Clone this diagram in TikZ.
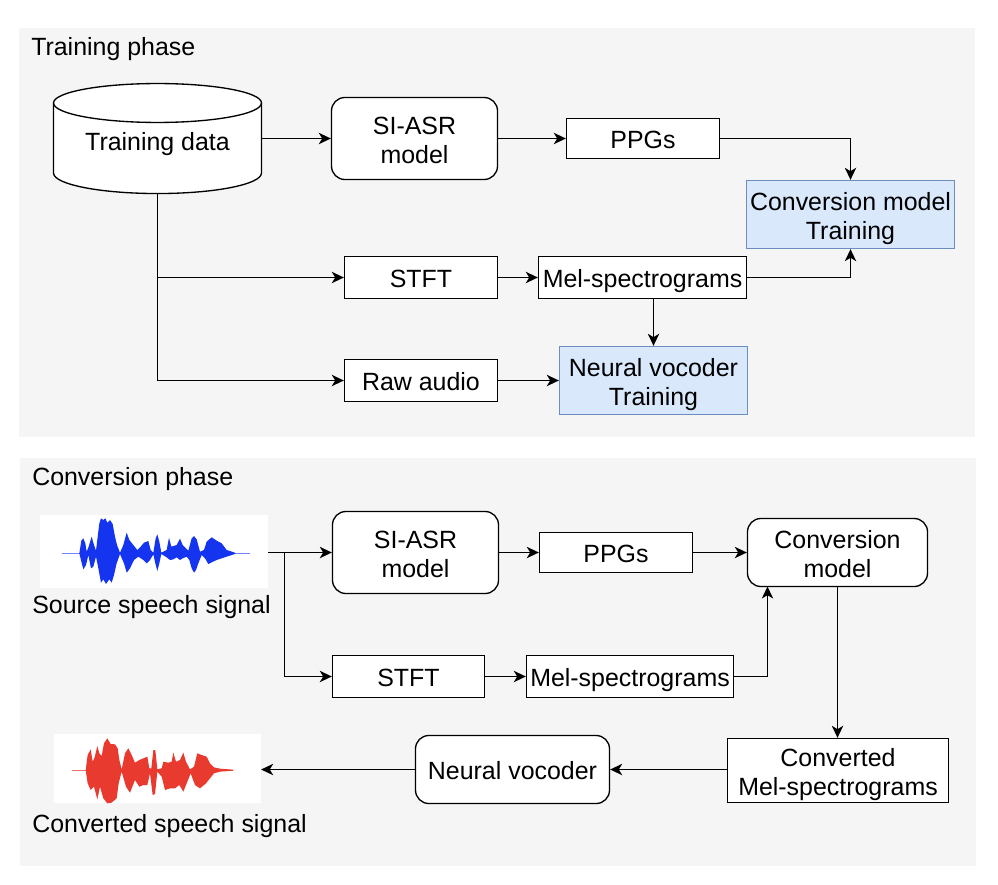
\documentclass[tikz,border=0pt]{standalone}
\usepackage{fontspec}
\setmainfont{Liberation Sans}
\usetikzlibrary{arrows.meta}

\definecolor{panelgray}{HTML}{F5F5F5}
\definecolor{vocfill}{HTML}{DAE8FC}
\definecolor{vocline}{HTML}{6C8EBF}
\definecolor{wavblue}{HTML}{1434F0}
\definecolor{wavred}{HTML}{E93A30}

\tikzset{
  every node/.style={font=\fontsize{18.7}{21.75}\selectfont, inner sep=0pt, align=center,
    execute at begin node={\rule{0pt}{19pt}}, execute at end node={\rule[-4pt]{0pt}{0pt}}},
  tworows/.style={execute at begin node={\rule{0pt}{40.8pt}}},
  panel/.style={fill=panelgray, draw=none},
  boxnode/.style={draw=black, line width=1pt, fill=white},
  roundnode/.style={boxnode, rounded corners=10pt},
  bluenode/.style={draw=vocline, line width=1pt, fill=vocfill},
  labelnode/.style={anchor=west},
  imgnode/.style={fill=white},
  arr/.style={line width=1pt, -{Stealth[length=9pt,width=8.5pt,inset=2.5pt]}},
  plainline/.style={line width=1pt}
}

\begin{document}
\begin{tikzpicture}[x=0.75pt,y=-0.75pt]
\useasboundingbox (0,0) rectangle (998,884);
\fill[panel] (19,28) rectangle (975,437);
\fill[panel] (20,458) rectangle (976,866);

% training phase
\node[labelnode] (trainlabel) at (31,46) {Training phase};
\draw[boxnode] (53.5,103) arc[start angle=180, end angle=0, x radius=78pt, y radius=14.6pt]
  -- (261.5,173) arc[start angle=0, end angle=-180, x radius=78pt, y radius=15.4pt] -- cycle;
\draw[boxnode, fill=none] (53.5,103) arc[start angle=180, end angle=360, x radius=78pt, y radius=14.6pt];
\node[minimum width=156pt, minimum height=79.5pt] (traindata) at (157.5,141) {Training data};
\node[roundnode, tworows, minimum width=124.5pt, minimum height=61.5pt] (asr1) at (414.5,138.5) {SI-ASR\\model};
\node[boxnode, minimum width=114.75pt, minimum height=30pt] (ppg1) at (643,138.5) {PPGs};
\node[bluenode, tworows, minimum width=156pt, minimum height=51pt] (convtrain) at (850.5,214.5) {Conversion model\\Training};
\node[boxnode, minimum width=114.75pt, minimum height=31.5pt] (stft1) at (421,277.5) {STFT};
\node[boxnode, minimum width=156pt, minimum height=31.5pt] (mel1) at (642.5,277.5) {Mel-spectrograms};
\node[boxnode, minimum width=114.75pt, minimum height=31.5pt] (raw) at (421,380.5) {Raw audio};
\node[bluenode, tworows, minimum width=141pt, minimum height=51pt] (voctrain) at (653.5,380.5) {Neural vocoder\\Training};

\draw[arr] (traindata.east |- asr1.west) -- (asr1.west);
\draw[arr] (asr1.east) -- (ppg1.west);
\draw[arr] (ppg1.east) -| (convtrain.north);
\draw[arr] (traindata.south) |- (stft1.west);
\draw[arr] (traindata.south) |- (raw.west);
\draw[arr] (stft1.east) -- (mel1.west);
\draw[arr] (mel1.east) -| (convtrain.south);
\draw[arr] (voctrain.north |- mel1.south) -- (voctrain.north);
\draw[arr] (raw.east) -- (voctrain.west);

% conversion phase
\node[labelnode] (convlabel) at (32,475) {Conversion phase};
\node[imgnode, minimum width=171pt, minimum height=55pt] (srcimg) at (154,551.5) {};
\begin{scope}[shift={(20,500)},x=0.25pt,y=-0.25pt]
\draw[wavblue!60, line width=0.4pt] (125,160) -- (690,160);
\fill[wavblue] plot coordinates {(178,160) (184,122) (190,115) (196,130) (200,155) (206,140) (215,110) (222,135) (228,152) (238,70) (243,55) (250,60) (256,55) (262,68) (270,60) (278,72) (285,110) (291,135) (300,158) (310,135) (320,98) (328,120) (340,135) (352,150) (362,140) (372,128) (385,123) (392,150) (400,158) (407,115) (412,103) (418,125) (424,158) (440,150) (447,113) (454,140) (470,135) (480,116) (488,135) (505,152) (515,115) (522,108) (530,118) (540,155) (552,150) (560,125) (575,112) (590,122) (605,130) (620,150) (645,158)
(645,162) (620,170) (605,175) (590,180) (575,187) (565,192) (555,175) (545,165) (535,190) (528,210) (522,218) (515,205) (508,180) (500,170) (488,175) (480,180) (470,172) (460,178) (450,180) (440,172) (424,162) (418,190) (412,213) (406,190) (400,163) (390,180) (380,190) (370,180) (355,170) (342,180) (330,205) (320,218) (312,190) (300,162) (290,190) (282,225) (275,248) (268,238) (258,252) (250,238) (243,248) (235,205) (228,170) (220,200) (213,205) (205,165) (198,195) (190,208) (183,180)};
\end{scope}
\node (srctext) at (151.5,603) {Source speech signal};
\node[roundnode, tworows, minimum width=124.5pt, minimum height=61.5pt] (asr2) at (415.5,552.5) {SI-ASR\\model};
\node[boxnode, minimum width=114.75pt, minimum height=30pt] (ppg2) at (616,552.5) {PPGs};
\node[roundnode, tworows, minimum width=135pt, minimum height=51pt] (convmodel) at (837.5,552.5) {Conversion\\model};
\node[boxnode, minimum width=114pt, minimum height=31.5pt] (stft2) at (408.5,676.5) {STFT};
\node[boxnode, minimum width=155.25pt, minimum height=31.5pt] (mel2) at (630,676.5) {Mel-spectrograms};
\node[boxnode, tworows, minimum width=165.75pt, minimum height=48pt] (convmel) at (838,770.5) {Converted\\Mel-spectrograms};
\node[roundnode, minimum width=145.5pt, minimum height=51pt] (vocoder) at (512.5,769.5) {Neural vocoder};
\node[imgnode, minimum width=155pt, minimum height=52pt] (outimg) at (157.5,768.5) {};
\begin{scope}[shift={(20,720)},x=0.25pt,y=-0.25pt]
\draw[wavred!70, line width=0.4pt] (155,150) -- (640,150);
\fill[wavred] plot coordinates {(197,150) (203,105) (212,88) (218,125) (224,112) (232,78) (238,100) (245,108) (252,70) (262,55) (272,72) (285,73) (293,85) (298,120) (305,148) (315,100) (325,85) (335,105) (345,128) (358,120) (370,115) (382,110) (388,145) (394,145) (400,90) (406,90) (412,148) (425,145) (430,125) (445,128) (455,125) (460,98) (468,125) (480,120) (490,98) (498,125) (510,148) (522,140) (532,100) (545,105) (560,110) (570,130) (582,142) (600,146) (640,149)
(640,152) (600,155) (582,160) (570,175) (558,190) (540,205) (525,195) (512,160) (500,190) (490,215) (478,195) (465,205) (450,205) (435,210) (425,170) (412,155) (405,222) (398,225) (390,160) (382,195) (370,195) (358,200) (345,180) (330,218) (318,200) (305,155) (296,190) (290,235) (275,248) (262,250) (250,235) (240,200) (232,238) (222,200) (212,210) (203,190)};
\end{scope}
\node (outtext) at (169.5,822) {Converted speech signal};

\coordinate (split) at (284.5,552.5);
\draw[arr] (srcimg.east |- asr2.west) -- (asr2.west);
\draw[plainline] (split) -- (split |- stft2.west);
\draw[arr] (split |- stft2.west) -- (stft2.west);
\draw[arr] (asr2.east) -- (ppg2.west);
\draw[arr] (ppg2.east) -- (convmodel.west);
\draw[arr] (stft2.east) -- (mel2.west);
\coordinate (melup) at (767.5,586.5);
\draw[arr] (mel2.east) -| (melup);
\draw[arr] (convmodel.south) -- (convmel.north -| convmodel.south);
\draw[arr] (convmel.west |- vocoder.east) -- (vocoder.east);
\draw[arr] (vocoder.west) -- (outimg.east |- vocoder.west);
\end{tikzpicture}
\end{document}
